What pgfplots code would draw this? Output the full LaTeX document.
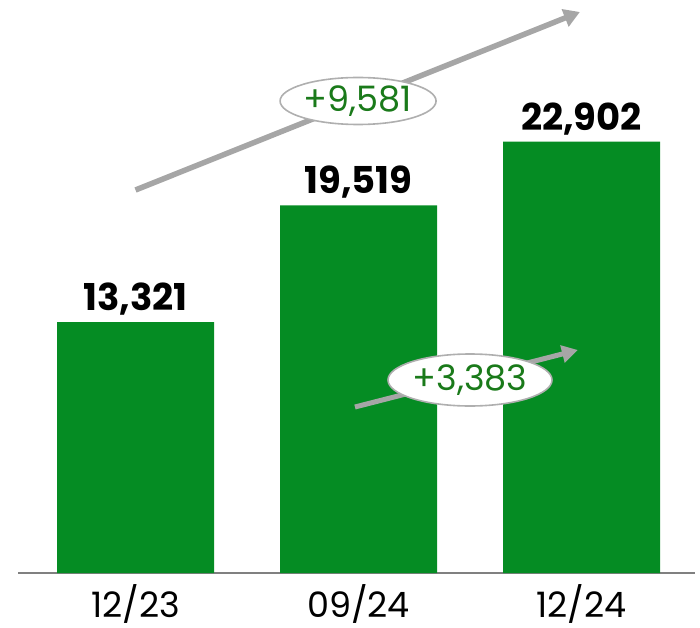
\documentclass[border=0pt]{standalone}
\usepackage{pgfplots}
\pgfplotsset{compat=1.18}
\usepackage{fontspec}
\setmainfont{Poppins}
\usetikzlibrary{shapes.geometric,arrows.meta}
\definecolor{bargreen}{HTML}{058C23}
\definecolor{txtgreen}{HTML}{1A7A1A}
\definecolor{arrgray}{HTML}{A6A6A6}
\begin{document}
\begin{tikzpicture}[x=1pt,y=1pt]
\begin{axis}[
  at={(18pt,54pt)}, anchor=south west,
  scale only axis, width=677pt, height=573pt,
  xmin=-0.527, xmax=2.509, ymin=0, ymax=30414,
  axis y line=none, axis x line*=bottom,
  x axis line style={draw=gray, line width=1.5pt, -},
  xtick=data, xticklabels={12/23,09/24,12/24},
  major tick length=0pt,
  xticklabel style={font=\fontsize{35}{38}\selectfont, yshift=-8pt},
  ybar, bar width=157pt, bar shift=0pt,
  nodes near coords, point meta=explicit symbolic,
  every node near coord/.append style={font=\fontsize{37}{40}\selectfont\bfseries, black, yshift=3pt},
  clip=false,
]
\addplot[fill=bargreen, draw=none] coordinates {(0,13321) [13,321] (1,19519) [19,519] (2,22902) [22,902]};
\draw[arrgray, line width=5.5pt, -{Triangle[length=16pt,width=18pt]}] (axis cs:0,20329) -- (axis cs:1.993,29777);
\draw[arrgray, line width=5pt, -{Triangle[length=16pt,width=17pt]}] (axis cs:0.984,8811) -- (axis cs:1.984,11836);
\draw[draw=arrgray!90, line width=1.6pt, fill=white] (axis cs:0.998,25053) ellipse [x radius=78pt, y radius=23.5pt];
\node[text=txtgreen, font=\fontsize{35}{38}\selectfont, inner sep=0pt] at (axis cs:0.998,25053) {+9,581};
\draw[draw=arrgray!90, line width=1.6pt, fill=white] (axis cs:1.5,10244) ellipse [x radius=82pt, y radius=26pt];
\node[text=txtgreen, font=\fontsize{35}{38}\selectfont, inner sep=0pt] at (axis cs:1.5,10244) {+3,383};
\end{axis}
\pgfresetboundingbox
\useasboundingbox (0,0) rectangle (700,627);
\end{tikzpicture}
\end{document}
